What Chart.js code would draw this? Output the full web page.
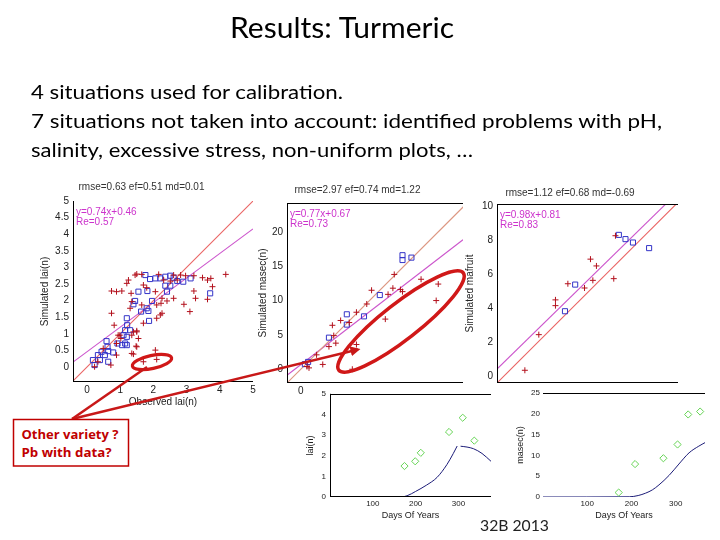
<!DOCTYPE html>
<html><head><meta charset="utf-8">
<script src="https://cdn.jsdelivr.net/npm/chart.js@4/dist/chart.umd.min.js"></script>
<style>
html,body{margin:0;padding:0;background:#fff;}
#slide{position:relative;width:720px;height:540px;overflow:hidden;background:#fff;}
canvas{position:absolute;}
.wbg{background:#fff;}
svg{position:absolute;left:0;top:0;}
</style></head><body>
<div id="slide">
<canvas id="c1" width="228" height="232" style="left:30px;top:178px"></canvas>
<canvas id="c2" width="216" height="230" style="left:252px;top:178px"></canvas>
<canvas id="c3" width="222" height="228" style="left:462px;top:180px"></canvas>
<canvas id="c4" class="wbg" width="192" height="138" style="left:304px;top:385px"></canvas>
<canvas id="c5" class="wbg" width="212" height="138" style="left:498px;top:385px"></canvas>
<svg width="720" height="540">
  <defs>
    <marker id="ah" markerWidth="4" markerHeight="4" refX="3" refY="2" orient="auto"><path d="M0,0 L4,2 L0,4 z" fill="#c81818"/></marker>
  </defs>
  <text x="230" y="38" font-family="Lato" font-size="28" fill="#000" textLength="224" lengthAdjust="spacingAndGlyphs">Results: Turmeric</text>
  <text x="31" y="99" font-family="Lato" font-size="19.5" fill="#000" textLength="312" lengthAdjust="spacingAndGlyphs">4 situations used for calibration.</text>
  <text x="31" y="128" font-family="Lato" font-size="19.5" fill="#000" textLength="631" lengthAdjust="spacingAndGlyphs">7 situations not taken into account: identified problems with pH,</text>
  <text x="31" y="157" font-family="Lato" font-size="19.5" fill="#000" textLength="442" lengthAdjust="spacingAndGlyphs">salinity, excessive stress, non-uniform plots, …</text>
  <text x="480" y="531" font-family="Lato" font-size="16" fill="#222" textLength="69" lengthAdjust="spacingAndGlyphs">32B 2013</text>
  <ellipse cx="152" cy="362" rx="20" ry="6.5" transform="rotate(-12 152 362)" fill="none" stroke="#d01818" stroke-width="3.2"/>
  <line x1="72" y1="419" x2="147" y2="367" stroke="#c81818" stroke-width="2.5"/>
  <line x1="72" y1="419" x2="358" y2="349.5" stroke="#c81818" stroke-width="2.5" marker-end="url(#ah)"/>
  <ellipse cx="401" cy="321.5" rx="79" ry="18" transform="rotate(-38 401 321.5)" fill="none" stroke="#d01818" stroke-width="3.5"/>
  <rect x="13.5" y="419.5" width="115" height="46.5" fill="#fff" stroke="#c00000" stroke-width="1.5"/>
  <text x="21.5" y="439" font-family="Open Sans" font-weight="bold" font-size="12.5" fill="#c00000" textLength="97" lengthAdjust="spacingAndGlyphs">Other variety ?</text>
  <text x="21.5" y="457" font-family="Open Sans" font-weight="bold" font-size="12.5" fill="#c00000" textLength="90" lengthAdjust="spacingAndGlyphs">Pb with data?</text>
</svg>
</div>
<script>
// ---------------- DATA ----------------
// Chart 1: LAI (observed vs simulated)
const laiObsCal = [1.76,1.9,2.06,1.55,1.82,1.45,1.4,1.96,1.63,1.85,1.87,1.2,1.21,1.15,1.1,0.92,1.06,1.2,0.59,0.62,0.44,0.64,0.79,0.33,0.54,0.18,0.39,0.64,0.23,2.21,2.36,2.51,2.61,2.72,2.9,3.12,2.36,2.51,2.41,1.8,3.71,1.3,1.2,1.15];
const laiSimCal = [2.77,2.65,2.67,2.27,2.29,1.99,1.89,1.99,1.67,1.69,1.39,1.47,1.26,1.11,0.96,0.71,0.66,0.66,0.78,0.61,0.46,0.48,0.44,0.36,0.36,0.21,0.21,0.16,0.06,2.67,2.72,2.75,2.69,2.59,2.57,2.67,2.45,2.45,2.27,1.77,2.22,1.11,0.91,0.71];
const laiObsVal = [1.25,1.45,0.74,0.89,1.05,1.2,1.33,1.35,1.3,0.74,0.82,0.94,1.4,1.5,2.1,2.26,1.7,1.55,1.02,0.89,0.49,0.72,0.33,0.23,1.35,2.06,1.5,2.1,2.26,2.16,2.61,2.82,2.97,2.31,2.51,2.72,3.22,3.48,3.63,3.73,4.18,3.78,3.22,3.27,3.63,2.61,2.92,3.1,2.23,2.41,2.06,1.7,1.8,2.21,1.65,1.7,2.1,1.48,1.4,1.5,1.65,0.99,1.35,1.5,0.89];
const laiSimVal = [2.62,2.77,2.29,2.27,2.29,2.52,2.22,1.97,1.77,1.62,1.26,0.96,1.06,1.06,1.47,1.62,1.32,0.86,0.86,0.36,0.56,0.06,0.16,0.01,0.41,0.51,0.61,1.87,2.07,2.79,2.77,2.77,2.75,2.62,2.59,2.62,2.75,2.69,2.62,2.67,2.79,2.42,2.29,2.07,2.04,2.07,1.89,1.67,1.92,1.99,2.27,2.47,2.39,1.57,1.87,0.16,0.23,0.63,0.39,2.8,2.79,0.96,0.96,1.09,0.71];
// Chart 2: masec
const masecObsCal = [14.8,14.8,16.1,11.5,6.7,6.7,9.2,4.1,1.07,0.6];
const masecSimCal = [16.6,15.9,16.25,10.8,8.0,6.5,7.7,4.6,1.07,0.75];
const masecObsVal = [13.6,10.3,13.4,12.7,14.5,14.8,17.5,20.0,19.7,12.3,9.6,7.05,5.8,4.6,4.1,2.3,3.2,1.2,7.5,8.1,5.1,4.8,8.1,0.9];
const masecSimVal = [13.8,11.5,11.8,10.9,11.6,11.3,13.1,12.4,10.0,7.3,9.5,6.8,7.1,6.4,3.3,2.1,0.7,0.2,0.0,3.6,3.8,4.9,8.3,0.4];
// Chart 3: mafruit
const fruitObsCal = [6.77,7.16,7.6,8.55,4.2,3.6];
const fruitSimCal = [8.33,8.08,7.88,7.55,5.4,3.83];
const fruitObsVal = [6.57,5.1,5.45,3.77,4.75,5.24,6.47,3.04,3.04,2.06,1.24];
const fruitSimVal = [8.28,6.9,6.5,5.45,5.2,5.65,5.75,4.5,4.16,2.45,0.35];
// statistics & regressions (lai, masec, mafruit)
const statRmse = [0.63, 2.97, 1.12];
const statEf = [0.51, 0.74, 0.68];
const statMd = [0.01, 1.22, -0.69];
const regSlope = [0.74, 0.77, 0.98];
const regIntercept = [0.46, 0.67, 0.81];
const regRe = [0.57, 0.73, 0.83];
const varNames = ['lai(n)', 'masec(n)', 'mafruit'];
// Chart 4: lai dynamics
const laiObsDays = [174,199,212,278,310,337];
const laiObsDyn = [1.5,1.73,2.14,3.15,3.84,2.73];
const laiSimDays = [0,165,180,200,225,250,273,288,297,301,305,320,335,355,376];
const laiSimDyn = [0,0,0.06,0.27,0.57,0.95,1.57,2.11,2.47,null,2.46,2.42,2.34,2.11,1.73];
// Chart 5: masec dynamics
const masecObsDays = [171,208,272,304,328,355];
const masecObsDyn = [1.07,7.9,9.3,12.6,19.8,20.5];
const masecSimDays = [0,195,215,232,247,262,285,307,330,352,367];
const masecSimDyn = [0,0.05,0.35,0.93,1.7,2.9,5.2,7.9,10.6,12.2,13.1];
// tick labels
const ticksLaiX = [0,1,2,3,4,5];
const ticksLaiY = [0,0.5,1,1.5,2,2.5,3,3.5,4,4.5,5];
const ticksMasec = [0,5,10,15,20];
const ticksFruit = [0,2,4,6,8,10];
const ticksDays = [100,200,300];
const ticksLaiDyn = [0,1,2,3,4,5];
const ticksMasecDyn = [0,5,10,15,20,25];

// ---------------- DRAWING ----------------
const FONT = "'Liberation Sans', Arial, sans-serif";
const RED = '#b3101c', BLUE = '#3434c8', MAG = '#cc55cc', MAGT = '#cc33cc', GREEN = '#66d455', NAVY = '#1c1c78';
const pts = (xs, ys) => xs.map((x, i) => ({x, y: ys[i]}));

const framePlugin = {
  id: 'frame',
  afterDraw(chart, args, o) {
    const {ctx, chartArea: a} = chart;
    ctx.save();
    ctx.strokeStyle = '#000'; ctx.lineWidth = 1;
    ctx.beginPath();
    const s = o.sides || '';
    const L = Math.round(a.left) + 0.5, R = Math.round(a.right) - 0.5, T = Math.round(a.top) + 0.5, B = Math.round(a.bottom) - 0.5;
    if (s.includes('l')) { ctx.moveTo(L, a.top); ctx.lineTo(L, a.bottom); }
    if (s.includes('b')) { ctx.moveTo(a.left, B); ctx.lineTo(a.right, B); }
    if (s.includes('t')) { ctx.moveTo(a.left, T); ctx.lineTo(a.right, T); }
    if (s.includes('r')) { ctx.moveTo(R, a.top); ctx.lineTo(R, a.bottom); }
    ctx.stroke();
    if (o.lines) {
      ctx.fillStyle = MAGT; ctx.font = '10px ' + FONT; ctx.textBaseline = 'middle';
      o.lines.forEach((t, i) => ctx.fillText(t, a.left + 3, a.top + 11 + i * 10.5));
    }
    ctx.restore();
  }
};

function scale(c) {
  return {
    type: 'linear', min: c.min, max: c.max,
    grid: {display: false, drawTicks: false}, border: {display: false},
    ticks: {font: {family: FONT, size: c.fs}, color: '#222', padding: c.pad, maxRotation: 0, autoSkip: false, callback: v => String(v)},
    afterBuildTicks: s => { s.ticks = c.ticks.map(v => ({value: v})); },
    afterFit: s => { if (c.horiz) s.height = c.size; else s.width = c.size; },
    title: {display: !!c.title, text: c.title, font: {family: FONT, size: c.tfs}, color: '#222', padding: {top: c.tp || 0, bottom: c.tp || 0}}
  };
}

function refLine(data, color) {
  return {type: 'line', data, pointRadius: 0, borderColor: color, backgroundColor: color, borderWidth: 1.1, fill: false, tension: 0};
}

function scatterChart(id, k, obsCal, simCal, obsVal, simVal, xr, yr, xt, yt, layout, titlePad, yw, ytp, line11Color) {
  const lo = Math.min(xr[0], yr[0]), hi = Math.max(xr[1], yr[1]);
  new Chart(document.getElementById(id), {
    type: 'scatter',
    data: {datasets: [
      {data: pts(obsVal, simVal), pointStyle: 'cross', pointRadius: 3, borderColor: RED, borderWidth: 1},
      {data: pts(obsCal, simCal), pointStyle: 'rect', pointRadius: 3.6, borderColor: BLUE, backgroundColor: 'rgba(0,0,0,0)', borderWidth: 1},
      refLine([{x: lo, y: lo}, {x: hi, y: hi}], line11Color),
      refLine([xr[0], xr[1]].map(x => ({x, y: regSlope[k] * x + regIntercept[k]})), MAG)
    ]},
    options: {
      responsive: false, animation: false, devicePixelRatio: 1,
      layout: {padding: layout},
      plugins: {
        legend: {display: false}, tooltip: {enabled: false},
        title: {display: true, text: `rmse=${statRmse[k].toFixed(2)} ef=${statEf[k].toFixed(2)} md=${statMd[k].toFixed(2)}`, font: {family: FONT, size: 10, weight: 'normal'}, color: '#333', padding: titlePad},
        frame: {sides: k === 0 ? 'lb' : 'lbt', lines: [`y=${regSlope[k].toFixed(2)}x+${regIntercept[k].toFixed(2)}`, `Re=${regRe[k].toFixed(2)}`]}
      },
      scales: {
        x: scale({min: xr[0], max: xr[1], ticks: xt, fs: 10, pad: 2, horiz: true, size: k === 0 ? 28 : 25, title: k === 0 ? 'Observed ' + varNames[k] : '', tfs: 10, tp: 2}),
        y: scale({min: yr[0], max: yr[1], ticks: yt, fs: 10, pad: 4, size: yw, title: 'Simulated ' + varNames[k], tfs: 10, tp: ytp})
      }
    },
    plugins: [framePlugin]
  });
}

scatterChart('c1', 0, laiObsCal, laiSimCal, laiObsVal, laiSimVal, [-0.42, 5], [-0.45, 5], ticksLaiX, ticksLaiY, {left: 0, right: 5, top: 0, bottom: 0}, {top: 3, bottom: 8}, 43, 9, '#ea6464');
scatterChart('c2', 1, masecObsCal, masecSimCal, masecObsVal, masecSimVal, [-2, 23.6], [-2, 24.2], ticksMasec, ticksMasec, {left: 0, right: 5, top: 0, bottom: 0}, {top: 6, bottom: 7}, 35, 5, '#dc9680');
scatterChart('c3', 2, fruitObsCal, fruitSimCal, fruitObsVal, fruitSimVal, [-0.4, 10.25], [-0.4, 10.15], ticksFruit, ticksFruit, {left: 0, right: 6, top: 0, bottom: 0}, {top: 7, bottom: 5}, 35, 2, '#ea6464');

function dynChart(id, obsD, obsV, simD, simV, xr, yr, yt, ylabel, layout, yw, ytp, ypad, sides) {
  new Chart(document.getElementById(id), {
    type: 'scatter',
    data: {datasets: [
      {data: pts(obsD, obsV), pointStyle: 'rectRot', pointRadius: 3.6, borderColor: GREEN, backgroundColor: 'rgba(0,0,0,0)', borderWidth: 1},
      {type: 'line', data: pts(simD, simV), spanGaps: false, pointRadius: 0, borderColor: NAVY, backgroundColor: NAVY, borderWidth: 1, fill: false, cubicInterpolationMode: 'monotone'}
    ]},
    options: {
      responsive: false, animation: false, devicePixelRatio: 1,
      layout: {padding: layout},
      plugins: {legend: {display: false}, tooltip: {enabled: false}, frame: {sides}},
      scales: {
        x: scale({min: xr[0], max: xr[1], ticks: ticksDays, fs: 8, pad: 2, horiz: true, size: 26, title: 'Days Of Years', tfs: 9, tp: 2}),
        y: scale({min: yr[0], max: yr[1], ticks: yt, fs: 8, pad: ypad, size: yw, title: ylabel, tfs: 9, tp: ytp})
      }
    },
    plugins: [framePlugin]
  });
}
dynChart('c4', laiObsDays, laiObsDyn, laiSimDays, laiSimDyn, [0, 376], [0, 5], ticksLaiDyn, 'lai(n)', {left: 0, right: 4, top: 4, bottom: 0}, 26, 1, 4, 'ltb');
dynChart('c5', masecObsDays, masecObsDyn, masecSimDays, masecSimDyn, [0, 366], [0, 25], ticksMasecDyn, 'masec(n)', {left: 0, right: 5, top: 5, bottom: 0}, 45, 17, 3, 't');
</script>
</body></html>
